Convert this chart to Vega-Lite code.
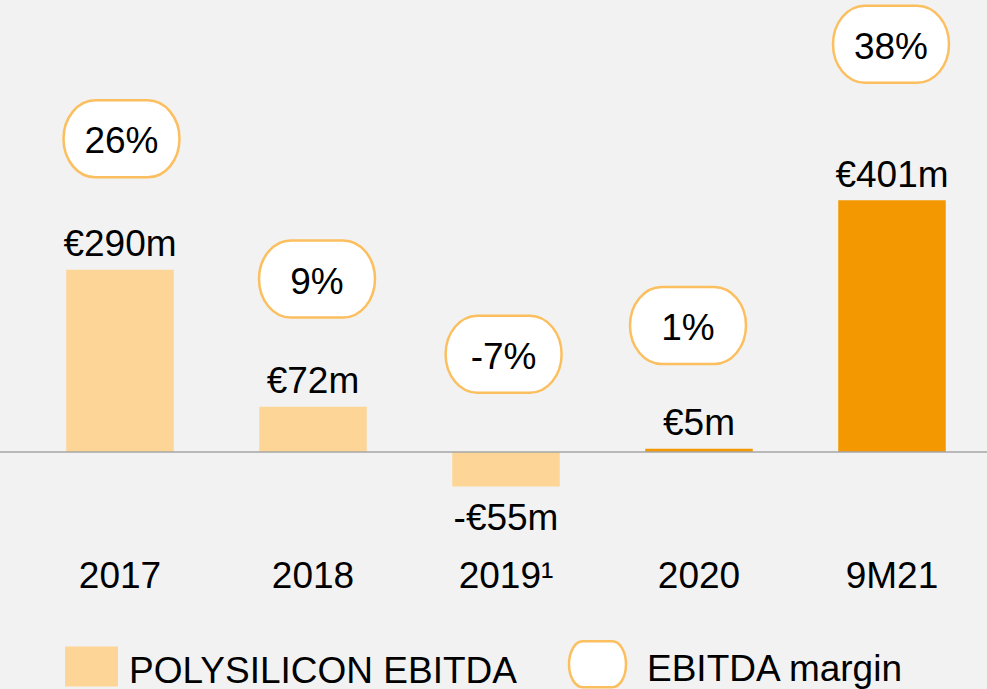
{
  "$schema": "https://vega.github.io/schema/vega-lite/v6.json",
  "width": 987,
  "height": 545,
  "autosize": "none",
  "padding": {"left": 0, "top": 0, "right": 0, "bottom": 144},
  "background": "#F2F2F2",
  "config": {
    "view": {"stroke": null},
    "font": "Liberation Sans",
    "legend": {
      "title": null,
      "orient": "none",
      "legendX": 73,
      "legendY": 645.5,
      "direction": "horizontal",
      "padding": 0,
      "symbolSize": 2916,
      "symbolOpacity": 1,
      "labelFontSize": 37,
      "labelFont": "Liberation Sans",
      "labelColor": "#000000",
      "labelLimit": 700,
      "labelOffset": 19,
      "columnPadding": 47
    }
  },
  "data": {
    "values": [
      {"period": "2017", "value": 290, "label": "€290m", "margin": 26, "margin_label": "26%"},
      {"period": "2018", "value": 72, "label": "€72m", "margin": 9, "margin_label": "9%"},
      {"period": "2019¹", "value": -55, "label": "-€55m", "margin": -7, "margin_label": "-7%"},
      {"period": "2020", "value": 5, "label": "€5m", "margin": 1, "margin_label": "1%"},
      {"period": "9M21", "value": 401, "label": "€401m", "margin": 38, "margin_label": "38%"}
    ]
  },
  "layer": [
    {
      "mark": {"type": "bar"},
      "encoding": {
        "x": {
          "field": "period", "type": "nominal", "sort": null,
          "scale": {"range": [23.5, 988.5], "paddingInner": 0.443, "paddingOuter": 0.2215},
          "axis": {"title": null, "domain": false, "ticks": false, "tickSize": 0, "grid": false, "labelAngle": 0, "labelFontSize": 37, "labelFont": "Liberation Sans", "labelColor": "#000000", "labelBaseline": "alphabetic", "labelPadding": 42}
        },
        "y": {"field": "value", "type": "quantitative", "scale": {"domain": [-148.1, 719.7], "nice": false, "zero": false}, "axis": null},
        "fill": {
          "datum": "POLYSILICON EBITDA", "type": "nominal",
          "condition": {"test": "datum.period === '2020' || datum.period === '9M21'", "value": "#F39800"},
          "scale": {"domain": ["POLYSILICON EBITDA", "EBITDA margin"], "range": ["#FDD596", "#FFFFFF"]},
          "legend": {
            "encode": {
              "symbols": {
                "update": {
                  "shape": {"signal": "datum.value === 'EBITDA margin' ? 'M-0.55,-0.85L0.55,-0.85A0.505,0.85,0,0,1,0.55,0.85L-0.55,0.85A0.505,0.85,0,0,1,-0.55,-0.85Z' : 'M-0.98,-0.74L0.98,-0.74L0.98,0.74L-0.98,0.74Z'"},
                  "stroke": {"signal": "datum.value === 'EBITDA margin' ? '#FCBF5F' : '#FDD596'"},
                  "strokeWidth": {"signal": "datum.value === 'EBITDA margin' ? 2.5 : 0"},
                  "opacity": {"value": 1}
                }
              },
              "labels": {
                "update": {
                  "dx": {"signal": "datum.value === 'EBITDA margin' ? 12 : 0"},
                  "dy": {"value": 5.7}
                }
              }
            }
          }
        }
      }
    },
    {
      "data": {"values": [{"zero": 0}]},
      "mark": {"type": "rule", "color": "#A6A6A6", "strokeWidth": 1.5},
      "encoding": {"y": {"field": "zero", "type": "quantitative"}}
    },
    {
      "transform": [{"filter": "datum.value >= 0"}],
      "mark": {"type": "text", "fontSize": 37, "font": "Liberation Sans", "color": "#000000", "align": "center", "baseline": "alphabetic", "dy": -13.5},
      "encoding": {
        "x": {"field": "period", "type": "nominal", "sort": null},
        "y": {"field": "value", "type": "quantitative"},
        "text": {"field": "label"}
      }
    },
    {
      "transform": [{"filter": "datum.value < 0"}],
      "mark": {"type": "text", "fontSize": 37, "font": "Liberation Sans", "color": "#000000", "align": "center", "baseline": "alphabetic", "dy": 43},
      "encoding": {
        "x": {"field": "period", "type": "nominal", "sort": null},
        "y": {"field": "value", "type": "quantitative"},
        "text": {"field": "label"}
      }
    },
    {
      "transform": [{"filter": "datum.period === '2017'"}],
      "encoding": {
        "x": {"field": "period", "type": "nominal", "sort": null},
        "y": {"field": "value", "type": "quantitative"},
        "xOffset": {"value": 55.25},
        "yOffset": {"value": -131}
      },
      "layer": [
        {"mark": {"type": "point", "filled": true, "opacity": 1, "shape": "M-0.45,-0.664L0.45,-0.664A0.55,0.664,0,0,1,0.45,0.664L-0.45,0.664A0.55,0.664,0,0,1,-0.45,-0.664Z", "size": 13456, "stroke": "#FCBF5F", "strokeWidth": 2.5},
         "encoding": {"fill": {"datum": "EBITDA margin", "type": "nominal"}}},
        {"mark": {"type": "text", "fontSize": 37, "font": "Liberation Sans", "color": "#000000", "align": "center", "baseline": "alphabetic", "dy": 14.6},
         "encoding": {"text": {"field": "margin_label"}}}
      ]
    },
    {
      "transform": [{"filter": "datum.period === '2018'"}],
      "encoding": {
        "x": {"field": "period", "type": "nominal", "sort": null},
        "y": {"field": "value", "type": "quantitative"},
        "xOffset": {"value": 57.75},
        "yOffset": {"value": -127.8}
      },
      "layer": [
        {"mark": {"type": "point", "filled": true, "opacity": 1, "shape": "M-0.45,-0.664L0.45,-0.664A0.55,0.664,0,0,1,0.45,0.664L-0.45,0.664A0.55,0.664,0,0,1,-0.45,-0.664Z", "size": 13456, "stroke": "#FCBF5F", "strokeWidth": 2.5},
         "encoding": {"fill": {"datum": "EBITDA margin", "type": "nominal"}}},
        {"mark": {"type": "text", "fontSize": 37, "font": "Liberation Sans", "color": "#000000", "align": "center", "baseline": "alphabetic", "dy": 14.6},
         "encoding": {"text": {"field": "margin_label"}}}
      ]
    },
    {
      "transform": [{"filter": "datum.value < 0"}],
      "encoding": {
        "x": {"field": "period", "type": "nominal", "sort": null},
        "y": {"field": "value", "type": "quantitative"},
        "xOffset": {"value": 51.35},
        "yOffset": {"value": -132.3}
      },
      "layer": [
        {"mark": {"type": "point", "filled": true, "opacity": 1, "shape": "M-0.45,-0.664L0.45,-0.664A0.55,0.664,0,0,1,0.45,0.664L-0.45,0.664A0.55,0.664,0,0,1,-0.45,-0.664Z", "size": 13456, "stroke": "#FCBF5F", "strokeWidth": 2.5},
         "encoding": {"fill": {"datum": "EBITDA margin", "type": "nominal"}}},
        {"mark": {"type": "text", "fontSize": 37, "font": "Liberation Sans", "color": "#000000", "align": "center", "baseline": "alphabetic", "dy": 14.6},
         "encoding": {"text": {"field": "margin_label"}}}
      ]
    },
    {
      "transform": [{"filter": "datum.period === '2020'"}],
      "encoding": {
        "x": {"field": "period", "type": "nominal", "sort": null},
        "y": {"field": "value", "type": "quantitative"},
        "xOffset": {"value": 42.75},
        "yOffset": {"value": -123.4}
      },
      "layer": [
        {"mark": {"type": "point", "filled": true, "opacity": 1, "shape": "M-0.45,-0.664L0.45,-0.664A0.55,0.664,0,0,1,0.45,0.664L-0.45,0.664A0.55,0.664,0,0,1,-0.45,-0.664Z", "size": 13456, "stroke": "#FCBF5F", "strokeWidth": 2.5},
         "encoding": {"fill": {"datum": "EBITDA margin", "type": "nominal"}}},
        {"mark": {"type": "text", "fontSize": 37, "font": "Liberation Sans", "color": "#000000", "align": "center", "baseline": "alphabetic", "dy": 14.6},
         "encoding": {"text": {"field": "margin_label"}}}
      ]
    },
    {
      "transform": [{"filter": "datum.period === '9M21'"}],
      "encoding": {
        "x": {"field": "period", "type": "nominal", "sort": null},
        "y": {"field": "value", "type": "quantitative"},
        "xOffset": {"value": 52.75},
        "yOffset": {"value": -155.9}
      },
      "layer": [
        {"mark": {"type": "point", "filled": true, "opacity": 1, "shape": "M-0.45,-0.664L0.45,-0.664A0.55,0.664,0,0,1,0.45,0.664L-0.45,0.664A0.55,0.664,0,0,1,-0.45,-0.664Z", "size": 13456, "stroke": "#FCBF5F", "strokeWidth": 2.5},
         "encoding": {"fill": {"datum": "EBITDA margin", "type": "nominal"}}},
        {"mark": {"type": "text", "fontSize": 37, "font": "Liberation Sans", "color": "#000000", "align": "center", "baseline": "alphabetic", "dy": 14.6},
         "encoding": {"text": {"field": "margin_label"}}}
      ]
    }
  ]
}
